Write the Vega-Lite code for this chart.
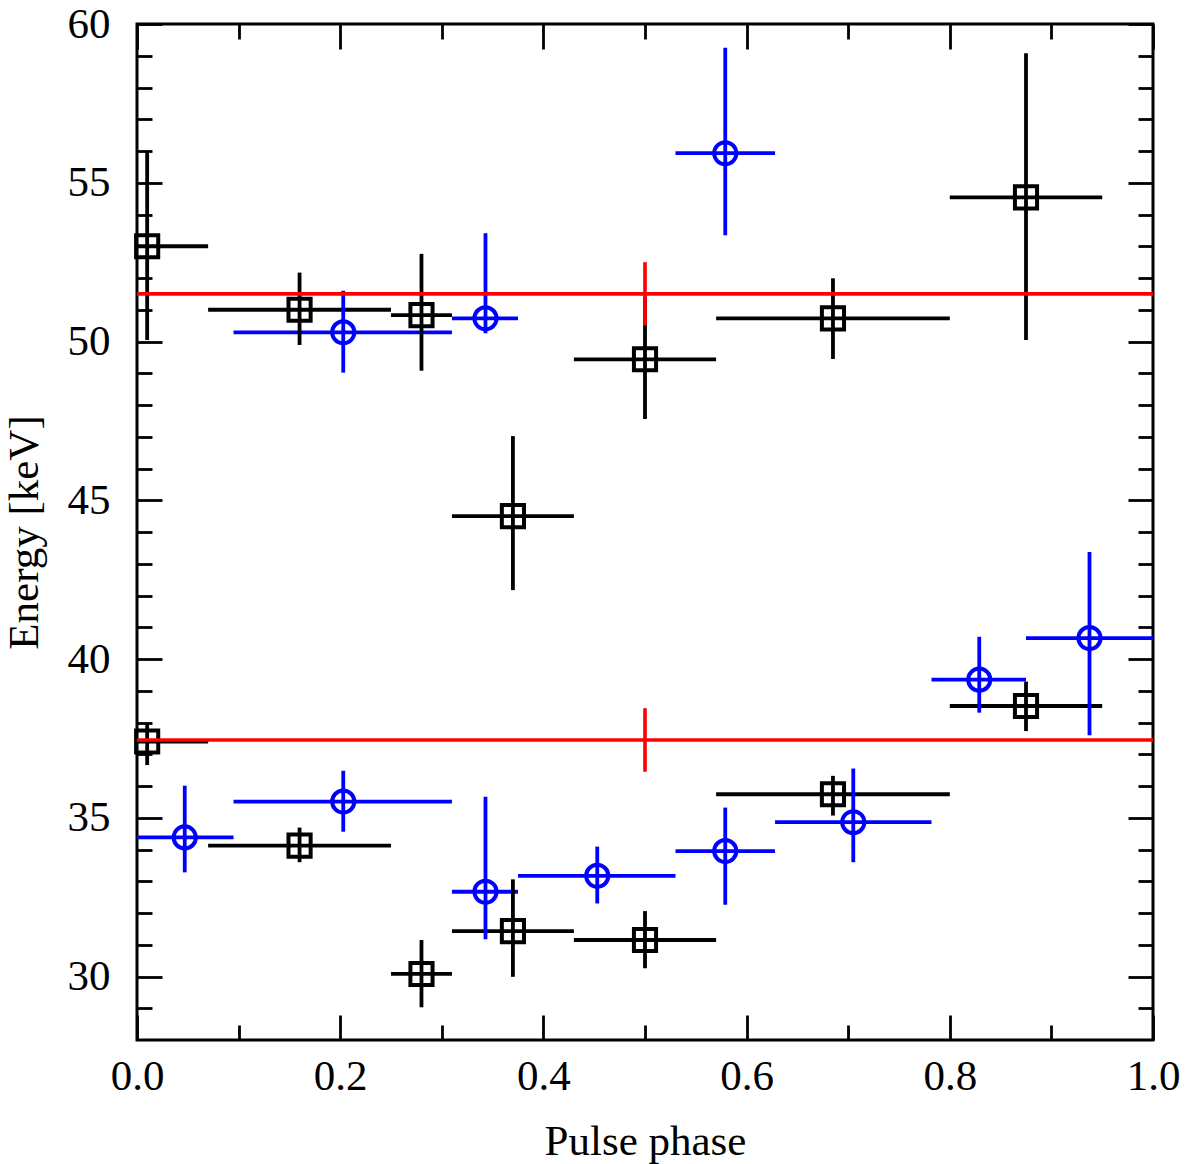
{
  "$schema": "https://vega.github.io/schema/vega-lite/v6.json",
  "width": 1016,
  "height": 1016,
  "autosize": {"type": "none"},
  "padding": {"left": 137, "top": 24, "right": 47, "bottom": 124},
  "background": "white",
  "datasets": {
    "pts": [
      {"g": "b", "x": 0.01, "x1": 0.0, "x2": 0.07, "y": 53.0, "y1": 50.05, "y2": 55.98},
      {"g": "b", "x": 0.16, "x1": 0.07, "x2": 0.25, "y": 51.0, "y1": 49.89, "y2": 52.17},
      {"g": "b", "x": 0.28, "x1": 0.25, "x2": 0.31, "y": 50.83, "y1": 49.08, "y2": 52.76},
      {"g": "b", "x": 0.37, "x1": 0.31, "x2": 0.43, "y": 44.5, "y1": 42.17, "y2": 47.02},
      {"g": "b", "x": 0.5, "x1": 0.43, "x2": 0.57, "y": 49.44, "y1": 47.56, "y2": 51.4},
      {"g": "b", "x": 0.685, "x1": 0.57, "x2": 0.8, "y": 50.73, "y1": 49.45, "y2": 51.99},
      {"g": "b", "x": 0.875, "x1": 0.8, "x2": 0.95, "y": 54.54, "y1": 50.05, "y2": 59.08},
      {"g": "b", "x": 0.01, "x1": 0.0, "x2": 0.07, "y": 37.4, "y1": 36.66, "y2": 37.99},
      {"g": "b", "x": 0.16, "x1": 0.07, "x2": 0.25, "y": 34.12, "y1": 33.6, "y2": 34.69},
      {"g": "b", "x": 0.28, "x1": 0.25, "x2": 0.31, "y": 30.08, "y1": 29.03, "y2": 31.15},
      {"g": "b", "x": 0.37, "x1": 0.31, "x2": 0.43, "y": 31.43, "y1": 29.99, "y2": 33.06},
      {"g": "b", "x": 0.5, "x1": 0.43, "x2": 0.57, "y": 31.15, "y1": 30.26, "y2": 32.06},
      {"g": "b", "x": 0.685, "x1": 0.57, "x2": 0.8, "y": 35.74, "y1": 35.07, "y2": 36.32},
      {"g": "b", "x": 0.875, "x1": 0.8, "x2": 0.95, "y": 38.52, "y1": 37.73, "y2": 39.29},
      {"g": "u", "x": 0.203, "x1": 0.095, "x2": 0.31, "y": 50.29, "y1": 49.02, "y2": 51.6},
      {"g": "u", "x": 0.343, "x1": 0.31, "x2": 0.375, "y": 50.73, "y1": 50.26, "y2": 53.41},
      {"g": "u", "x": 0.579, "x1": 0.53, "x2": 0.628, "y": 55.93, "y1": 53.35, "y2": 59.25},
      {"g": "u", "x": 0.047, "x1": 0.0, "x2": 0.095, "y": 34.38, "y1": 33.28, "y2": 36.01},
      {"g": "u", "x": 0.203, "x1": 0.095, "x2": 0.31, "y": 35.51, "y1": 34.56, "y2": 36.48},
      {"g": "u", "x": 0.343, "x1": 0.31, "x2": 0.375, "y": 32.67, "y1": 31.17, "y2": 35.66},
      {"g": "u", "x": 0.453, "x1": 0.375, "x2": 0.53, "y": 33.17, "y1": 32.3, "y2": 34.09},
      {"g": "u", "x": 0.579, "x1": 0.53, "x2": 0.628, "y": 33.95, "y1": 32.26, "y2": 35.32},
      {"g": "u", "x": 0.705, "x1": 0.628, "x2": 0.782, "y": 34.86, "y1": 33.6, "y2": 36.55},
      {"g": "u", "x": 0.829, "x1": 0.782, "x2": 0.875, "y": 39.35, "y1": 38.31, "y2": 40.7},
      {"g": "u", "x": 0.9375, "x1": 0.875, "x2": 1.0, "y": 40.66, "y1": 37.6, "y2": 43.37}
    ],
    "ref": [
      {"x": 0.5, "y": 51.5, "y1": 50.5, "y2": 52.5},
      {"x": 0.5, "y": 37.45, "y1": 36.45, "y2": 38.45}
    ]
  },
  "resolve": {"axis": {"x": "independent", "y": "independent"}},
  "layer": [
    {
      "data": {"name": "pts"},
      "mark": {"type": "rule", "strokeWidth": 3.8},
      "encoding": {
        "x": {"field": "x1", "type": "quantitative",
              "scale": {"domain": [0, 1], "nice": false, "zero": false},
              "axis": {"orient": "bottom", "values": [0, 0.2, 0.4, 0.6, 0.8, 1.0], "format": ".1f",
                       "tickSize": -25, "labelPadding": 40, "title": "Pulse phase", "titlePadding": 22}},
        "x2": {"field": "x2"},
        "y": {"field": "y", "type": "quantitative",
              "scale": {"domain": [28, 60], "nice": false, "zero": false},
              "axis": {"orient": "left", "values": [30, 35, 40, 45, 50, 55, 60],
                       "tickSize": -25, "labelPadding": 52, "title": "Energy [keV]", "titlePadding": 21}},
        "color": {"field": "g", "type": "nominal", "legend": null,
                  "scale": {"domain": ["b", "u"], "range": ["#000000", "#0000ff"]}}
      }
    },
    {
      "data": {"name": "pts"},
      "mark": {"type": "rule", "strokeWidth": 3.8},
      "encoding": {
        "x": {"field": "x", "type": "quantitative",
              "axis": {"orient": "top", "values": [0, 0.2, 0.4, 0.6, 0.8, 1.0],
                       "tickSize": -25, "labels": false, "title": null}},
        "y": {"field": "y1", "type": "quantitative",
              "axis": {"orient": "right", "values": [30, 35, 40, 45, 50, 55, 60],
                       "tickSize": -25, "labels": false, "title": null}},
        "y2": {"field": "y2"},
        "color": {"field": "g", "type": "nominal", "legend": null,
                  "scale": {"domain": ["b", "u"], "range": ["#000000", "#0000ff"]}}
      }
    },
    {
      "data": {"name": "pts"},
      "mark": {"type": "point", "filled": false, "strokeWidth": 4, "size": 490, "opacity": 1},
      "encoding": {
        "x": {"field": "x", "type": "quantitative",
              "axis": {"orient": "bottom", "values": [0.1, 0.3, 0.5, 0.7, 0.9],
                       "tickSize": -15, "labels": false, "title": null}},
        "y": {"field": "y", "type": "quantitative",
              "axis": {"orient": "left",
                       "values": [29, 31, 32, 33, 34, 36, 37, 38, 39, 41, 42, 43, 44, 46, 47, 48, 49, 51, 52, 53, 54, 56, 57, 58, 59],
                       "tickSize": -15, "labels": false, "title": null}},
        "color": {"field": "g", "type": "nominal", "legend": null,
                  "scale": {"domain": ["b", "u"], "range": ["#000000", "#0000ff"]}},
        "shape": {"field": "g", "type": "nominal", "legend": null,
                  "scale": {"domain": ["b", "u"], "range": ["square", "circle"]}}
      }
    },
    {
      "data": {"name": "ref"},
      "mark": {"type": "rule", "color": "#ff0000", "strokeWidth": 3.6},
      "encoding": {
        "y": {"field": "y", "type": "quantitative", "axis": null}
      }
    },
    {
      "data": {"name": "ref"},
      "mark": {"type": "rule", "color": "#ff0000", "strokeWidth": 3.6},
      "encoding": {
        "x": {"field": "x", "type": "quantitative",
              "axis": {"orient": "top", "values": [0.1, 0.3, 0.5, 0.7, 0.9],
                       "tickSize": -15, "labels": false, "title": null}},
        "y": {"field": "y1", "type": "quantitative",
              "axis": {"orient": "right",
                       "values": [29, 31, 32, 33, 34, 36, 37, 38, 39, 41, 42, 43, 44, 46, 47, 48, 49, 51, 52, 53, 54, 56, 57, 58, 59],
                       "tickSize": -15, "labels": false, "title": null}},
        "y2": {"field": "y2"}
      }
    }
  ],
  "config": {
    "view": {"stroke": "#000000", "strokeWidth": 3},
    "axis": {
      "domain": false,
      "grid": false,
      "ticks": true,
      "tickColor": "#000000",
      "tickWidth": 2.8,
      "labelFont": "Liberation Serif",
      "labelFontSize": 43,
      "labelColor": "#000000",
      "labelFlush": false,
      "labelOverlap": false,
      "titleFont": "Liberation Serif",
      "titleFontSize": 43,
      "titleFontWeight": "normal",
      "titleColor": "#000000"
    }
  }
}
